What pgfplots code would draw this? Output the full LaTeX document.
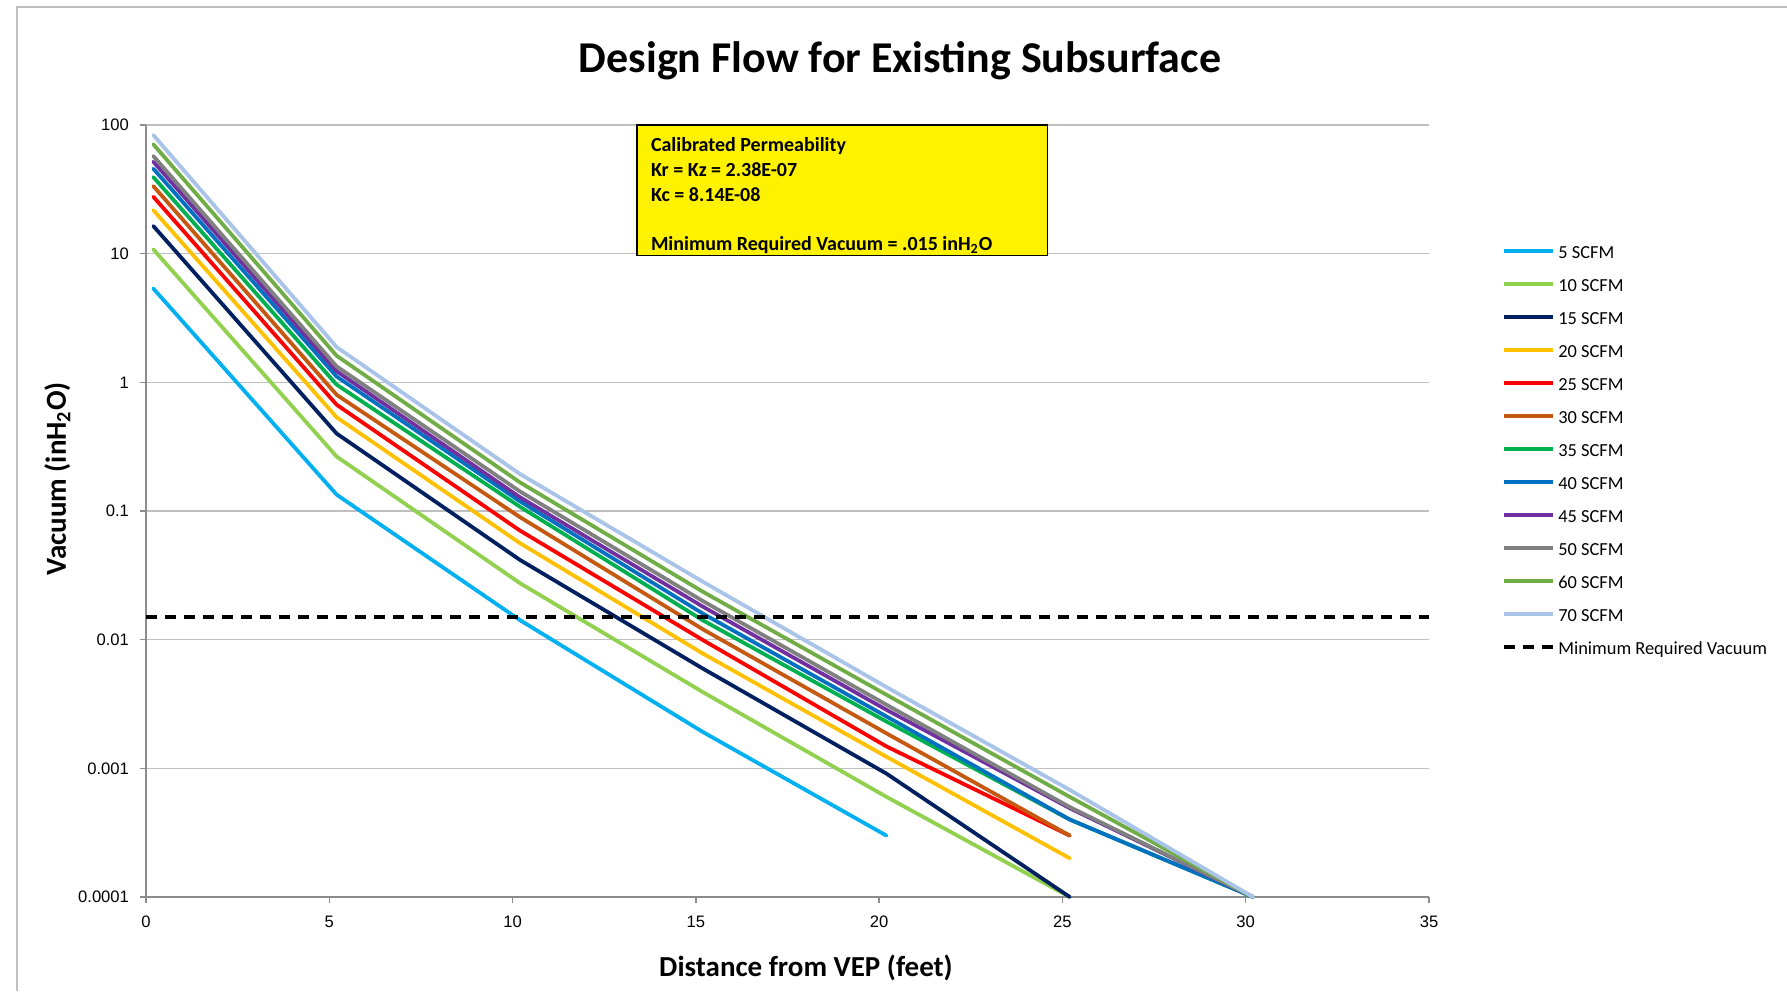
\documentclass[border=0pt]{standalone}
\usepackage{pgfplots}
\pgfplotsset{compat=1.18}
\usepackage{fontspec}
\setmainfont{Carlito}
\newfontfamily\tickfont{Liberation Sans}
\definecolor{cA}{HTML}{00B0F0}
\definecolor{cB}{HTML}{92D050}
\definecolor{cC}{HTML}{002060}
\definecolor{cD}{HTML}{FFC000}
\definecolor{cE}{HTML}{FF0000}
\definecolor{cF}{HTML}{C65911}
\definecolor{cG}{HTML}{00B050}
\definecolor{cH}{HTML}{0070C0}
\definecolor{cI}{HTML}{7030A0}
\definecolor{cJ}{HTML}{808080}
\definecolor{cK}{HTML}{70AD47}
\definecolor{cL}{HTML}{A9C4E8}
\definecolor{gridc}{HTML}{BFBFBF}
\definecolor{axc}{HTML}{8C8C8C}
\begin{document}
\begin{tikzpicture}
\useasboundingbox (-73pt,-47pt) rectangle (820.5pt,448.5pt);
\draw[gridc, line width=0.7pt] (-64.5pt,-47pt) -- (-64.5pt,445pt) -- (820.5pt,445pt);
\begin{axis}[
  scale only axis, width=641.5pt, height=386pt,
  xmin=0, xmax=35, ymin=1e-4, ymax=100, ymode=log,
  axis x line*=bottom, axis y line*=left,
  axis line style={-, color=axc, line width=0.8pt},
  xtick={0,5,10,15,20,25,30,35},
  xticklabels={0,5,10,15,20,25,30,35},
  ytick={1e-4,1e-3,1e-2,1e-1,1,10,100},
  yticklabels={0.0001,0.001,0.01,0.1,1,10,100},
  yminorticks=false,
  ymajorgrids, grid style={color=gridc, line width=0.7pt},
  tick align=outside, major tick length=3pt,
  tick style={color=axc, line width=0.7pt},
  tick label style={font=\tickfont\fontsize{8.3}{10}\selectfont},
  yticklabel style={xshift=-2pt},
  xticklabel style={yshift=-3pt},
  clip=false,
  every axis plot/.append style={line width=1.9pt, line cap=round, line join=round},
  legend style={at={(1.057,0.846)}, anchor=north west, draw=none, fill=none,
    font=\fontsize{9.2}{11}\selectfont, row sep=7.5pt, column sep=0pt, inner sep=0pt,
    nodes={inner xsep=1.5pt, inner ysep=0pt, text height=7pt, text depth=2pt}},
  legend cell align=left,
  legend image code/.code={\draw[#1, line cap=butt] (0pt,1pt) -- (24.5pt,1pt);},
]
\addplot[cA] coordinates {(0.2,5.36) (5.2,0.134) (10.2,0.0142) (15.2,0.00191) (20.2,0.0003)};
\addlegendentry{5 SCFM}
\addplot[cB] coordinates {(0.2,10.8) (5.2,0.265) (10.2,0.0275) (15.2,0.0039) (20.2,0.0006) (25.2,0.0001)};
\addlegendentry{10 SCFM}
\addplot[cC] coordinates {(0.2,16.4) (5.2,0.40) (10.2,0.0417) (15.2,0.00594) (20.2,0.00091) (25.2,0.0001)};
\addlegendentry{15 SCFM}
\addplot[cD] coordinates {(0.2,21.8) (5.2,0.535) (10.2,0.0563) (15.2,0.00778) (20.2,0.00123) (25.2,0.0002)};
\addlegendentry{20 SCFM}
\addplot[cE] coordinates {(0.2,27.7) (5.2,0.67) (10.2,0.0705) (15.2,0.0099) (20.2,0.00148) (25.2,0.0003)};
\addlegendentry{25 SCFM}
\addplot[cF] coordinates {(0.2,33.5) (5.2,0.80) (10.2,0.0897) (15.2,0.0120) (20.2,0.00187) (25.2,0.0003)};
\addlegendentry{30 SCFM}
\addplot[cG] coordinates {(0.2,39.4) (5.2,0.96) (10.2,0.108) (15.2,0.0141) (20.2,0.00231) (25.2,0.0004) (30.2,0.0001)};
\addlegendentry{35 SCFM}
\addplot[cH] coordinates {(0.2,45.8) (5.2,1.11) (10.2,0.119) (15.2,0.0159) (20.2,0.00253) (25.2,0.0004) (30.2,0.0001)};
\addlegendentry{40 SCFM}
\addplot[cI] coordinates {(0.2,51.9) (5.2,1.22) (10.2,0.128) (15.2,0.0180) (20.2,0.00285) (25.2,0.00049) (30.2,0.0001)};
\addlegendentry{45 SCFM}
\addplot[cJ] coordinates {(0.2,57.4) (5.2,1.33) (10.2,0.142) (15.2,0.0199) (20.2,0.00312) (25.2,0.0005) (30.2,0.0001)};
\addlegendentry{50 SCFM}
\addplot[cK] coordinates {(0.2,70.8) (5.2,1.61) (10.2,0.167) (15.2,0.0235) (20.2,0.00373) (25.2,0.0006) (30.2,0.0001)};
\addlegendentry{60 SCFM}
\addplot[cL] coordinates {(0.2,83.6) (5.2,1.88) (10.2,0.194) (15.2,0.0281) (20.2,0.00428) (25.2,0.00068) (30.2,0.0001)};
\addlegendentry{70 SCFM}
\addplot[black, line cap=butt, dash pattern=on 5.5pt off 4pt] coordinates {(0,0.015) (35,0.015)};
\addlegendentry{Minimum Required Vacuum}
\end{axis}
\draw[black, line width=0.6pt, fill=yellow] (245.5pt,320.8pt) rectangle (450.75pt,386pt);
\begin{scope}[every node/.style={anchor=base west, inner sep=0pt, font=\bfseries\fontsize{10}{12}\selectfont}]
\node at (252.3pt,372.5pt) {Calibrated Permeability};
\node at (252.3pt,360pt) {Kr = Kz = 2.38E-07};
\node at (252.3pt,347.5pt) {Kc = 8.14E-08};
\node at (252.3pt,323pt) {Minimum Required Vacuum = .015 inH\textsubscript{2}O};
\end{scope}
\node[anchor=base, inner sep=0pt, font=\bfseries\fontsize{22}{26}\selectfont] at (377pt,412pt) {Design Flow for Existing Subsurface};
\node[anchor=base, inner sep=0pt, font=\bfseries\fontsize{14.5}{17}\selectfont] at (330pt,-39.8pt) {Distance from VEP (feet)};
\node[anchor=base, rotate=90, inner sep=0pt, font=\bfseries\fontsize{14.5}{17}\selectfont] at (-40pt,209pt) {Vacuum (inH\textsubscript{2}O)};
\end{tikzpicture}
\end{document}
